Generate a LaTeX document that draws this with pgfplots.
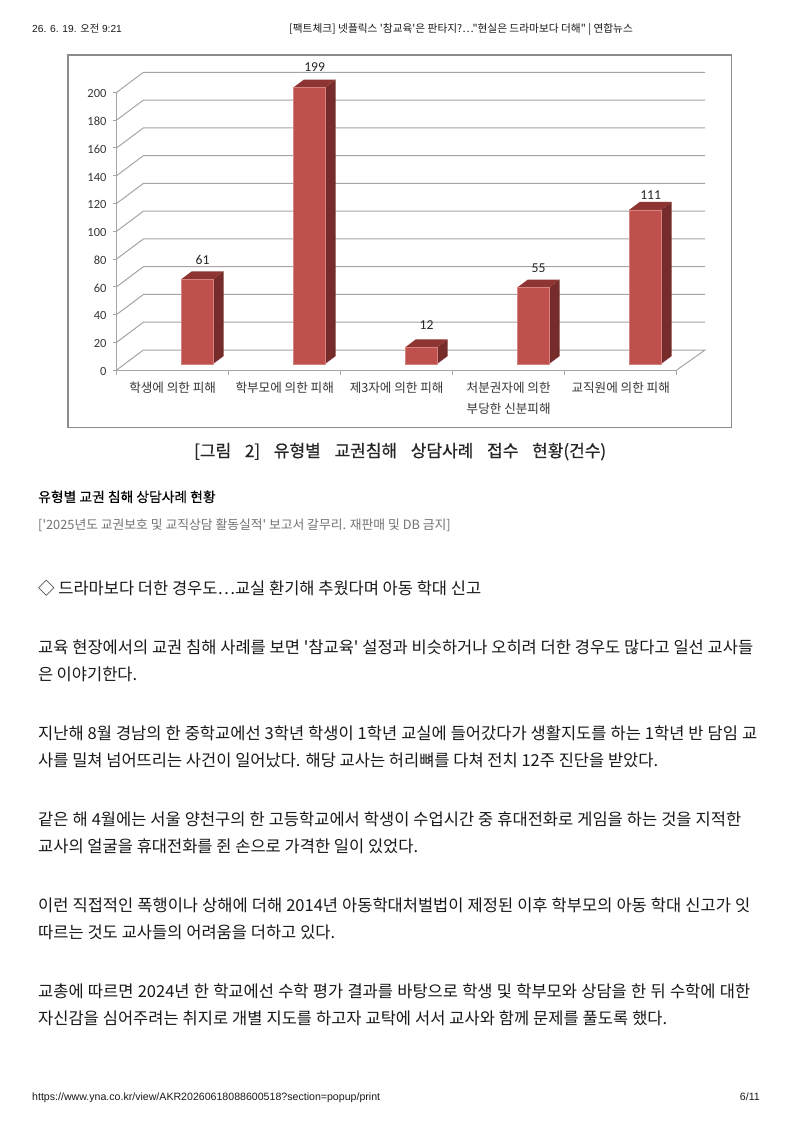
\documentclass[border=0pt]{standalone}
\usepackage{fontspec}
\usepackage{pgfplots}
\usepackage{pgfplotstable}
\pgfplotsset{compat=1.18}
\setmainfont[Ligatures=TeXOff]{Noto Sans CJK KR}
\newfontfamily\lib{Liberation Sans}
\newfontfamily\carl{Carlito}
\newfontfamily\cjkm[FakeBold=0.25]{Noto Sans CJK KR}
\newfontfamily\cjkb[FakeBold=0.6]{Noto Sans CJK KR}
\definecolor{gridc}{RGB}{165,165,165}
\definecolor{front}{RGB}{190,80,77}
\definecolor{edge}{RGB}{214,130,125}
\definecolor{side}{RGB}{117,44,42}
\definecolor{topf}{RGB}{142,53,51}
\definecolor{lab}{RGB}{55,55,55}
\definecolor{body}{RGB}{25,25,25}
\pgfplotstableread{
x v ly
0.5 61 19
1.5 199 21
2.5 12 22
3.5 55 19
4.5 111 14.3
}\bars
\newcommand\tl[3]{\node[anchor=base west,inner sep=0pt,text=body] at (38,-#1) {\makebox[#2pt][s]{\fontsize{16.5}{16.5}\selectfont #3}};}
\begin{document}
\begin{tikzpicture}[x=1pt,y=1pt]
\path[use as bounding box,fill=white] (0,0) rectangle (793,-1122);
% frame
\draw[draw=black!45,line width=1.6pt,fill=white] (68,-55) rectangle (731.5,-427.5);
\begin{axis}[
  at={(116.7pt,-370pt)},anchor=south west,scale only axis,
  width=560pt,height=277.7pt,
  xmin=0,xmax=5,ymin=0,ymax=200,clip=false,
  axis x line*=bottom,axis y line*=left,
  axis line style={-,draw=gridc,line width=1pt},
  /pgf/number format/assume math mode=true,
  ytick={0,20,...,200},
  xtick={0.5,1.5,2.5,3.5,4.5},
  minor xtick={0,1,2,3,4,5},
  major x tick style={draw=none},
  minor x tick style={draw=gridc,line width=0.8pt},
  major y tick style={draw=gridc,line width=0.8pt},
  tick align=outside,major tick length=4pt,minor tick length=5pt,
  xticklabels={학생에 의한 피해,학부모에 의한 피해,제3자에 의한 피해,{처분권자에 의한\\부당한 신분피해},교직원에 의한 피해},
  xticklabel style={anchor=north,inner sep=0pt,align=center,yshift=-8pt,text=lab,
     font=\fontsize{12.6}{21}\selectfont},
  yticklabel style={font=\carl\fontsize{12.5}{14}\selectfont,text=lab,inner sep=0pt,xshift=-6pt,yshift=-1.5pt},
]
% back wall and side wall lines
\addplot[gridc,line width=1pt] coordinates {(0,20)(0.2384,34.4)(5.2527,34.4)};
\addplot[gridc,line width=1pt] coordinates {(0,40)(0.2384,54.4)(5.2527,54.4)};
\addplot[gridc,line width=1pt] coordinates {(0,60)(0.2384,74.4)(5.2527,74.4)};
\addplot[gridc,line width=1pt] coordinates {(0,80)(0.2384,94.4)(5.2527,94.4)};
\addplot[gridc,line width=1pt] coordinates {(0,100)(0.2384,114.4)(5.2527,114.4)};
\addplot[gridc,line width=1pt] coordinates {(0,120)(0.2384,134.4)(5.2527,134.4)};
\addplot[gridc,line width=1pt] coordinates {(0,140)(0.2384,154.4)(5.2527,154.4)};
\addplot[gridc,line width=1pt] coordinates {(0,160)(0.2384,174.4)(5.2527,174.4)};
\addplot[gridc,line width=1pt] coordinates {(0,180)(0.2384,194.4)(5.2527,194.4)};
\addplot[gridc,line width=1pt] coordinates {(0,200)(0.2384,214.4)(5.2527,214.4)};
\addplot[gridc,line width=1pt] coordinates {(0,0)(0.2384,14.4)(5.2527,14.4)(5,0)};
% side faces
\addplot[side,fill=side,draw=none,xshift=24.4pt,yshift=6pt] coordinates {(0.6425,0)(0.7375,5.76)(0.7375,66.76)(0.6425,61)} --cycle;
\addplot[side,fill=side,draw=none,xshift=24.4pt,yshift=6pt] coordinates {(1.6425,0)(1.7375,5.76)(1.7375,204.76)(1.6425,199)} --cycle;
\addplot[side,fill=side,draw=none,xshift=24.4pt,yshift=6pt] coordinates {(2.6425,0)(2.7375,5.76)(2.7375,17.76)(2.6425,12)} --cycle;
\addplot[side,fill=side,draw=none,xshift=24.4pt,yshift=6pt] coordinates {(3.6425,0)(3.7375,5.76)(3.7375,60.76)(3.6425,55)} --cycle;
\addplot[side,fill=side,draw=none,xshift=24.4pt,yshift=6pt] coordinates {(4.6425,0)(4.7375,5.76)(4.7375,116.76)(4.6425,111)} --cycle;
% top faces
\addplot[topf,fill=topf,draw=none,xshift=24.4pt,yshift=6pt] coordinates {(0.3575,61)(0.4525,66.76)(0.7375,66.76)(0.6425,61)} --cycle;
\addplot[topf,fill=topf,draw=none,xshift=24.4pt,yshift=6pt] coordinates {(1.3575,199)(1.4525,204.76)(1.7375,204.76)(1.6425,199)} --cycle;
\addplot[topf,fill=topf,draw=none,xshift=24.4pt,yshift=6pt] coordinates {(2.3575,12)(2.4525,17.76)(2.7375,17.76)(2.6425,12)} --cycle;
\addplot[topf,fill=topf,draw=none,xshift=24.4pt,yshift=6pt] coordinates {(3.3575,55)(3.4525,60.76)(3.7375,60.76)(3.6425,55)} --cycle;
\addplot[topf,fill=topf,draw=none,xshift=24.4pt,yshift=6pt] coordinates {(4.3575,111)(4.4525,116.76)(4.7375,116.76)(4.6425,111)} --cycle;
% front faces and value labels
\addplot[ybar,bar width=32pt,bar shift=0pt,fill=front,draw=edge,line width=0.5pt,xshift=24.4pt,yshift=6pt,
  point meta=y,
  visualization depends on={\thisrow{ly} \as \ly},
  nodes near coords,
  every node near coord/.append style={anchor=center,inner sep=0pt,xshift=5.5pt,yshift=\ly pt,
     font=\carl\fontsize{13.6}{15}\selectfont,text=black!85},
] table[x=x,y=v] {\bars};
\end{axis}
% caption inside the picture
\node[anchor=base west,inner sep=0pt,text=black!85] at (194,-457) {\makebox[412pt][s]{\cjkb\fontsize{17}{17}\selectfont [그림 2] 유형별 교권침해 상담사례 접수 현황(건수)}};
% page header and footer
\node[anchor=base west,inner sep=0pt,text=body] at (32,-32) {\fontsize{10.2}{11}\selectfont{\lib 26. 6. 19. }오전{\lib\ 9:21}};
\node[anchor=base west,inner sep=0pt,text=body] at (289,-32) {\fontsize{10.7}{11}\selectfont [팩트체크] 넷플릭스 '참교육'은 판타지?…"현실은 드라마보다 더해" | 연합뉴스};
\node[anchor=base west,inner sep=0pt,text=body] at (32,-1100) {\lib\fontsize{10.6}{11}\selectfont https://www.yna.co.kr/view/AKR20260618088600518?section=popup/print};
\node[anchor=base east,inner sep=0pt,text=body] at (760,-1100) {\lib\fontsize{10.6}{11}\selectfont 6/11};
% article text
\node[anchor=base west,inner sep=0pt,text=black] at (38,-502) {\cjkm\fontsize{13.8}{14}\selectfont 유형별 교권 침해 상담사례 현황};
\node[anchor=base west,inner sep=0pt,text=black!55] at (38,-529) {\fontsize{12.8}{14}\selectfont ['2025년도 교권보호 및 교직상담 활동실적' 보고서 갈무리. 재판매 및 DB 금지]};
\tl{594}{443}{◇ 드라마보다 더한 경우도⋯교실 환기해 추웠다며 아동 학대 신고}
\tl{653}{715}{교육 현장에서의 교권 침해 사례를 보면 '참교육' 설정과 비슷하거나 오히려 더한 경우도 많다고 일선 교사들}
\tl{680}{99}{은 이야기한다.}
\tl{739}{719}{지난해 8월 경남의 한 중학교에선 3학년 학생이 1학년 교실에 들어갔다가 생활지도를 하는 1학년 반 담임 교}
\tl{766}{620}{사를 밀쳐 넘어뜨리는 사건이 일어났다. 해당 교사는 허리뼈를 다쳐 전치 12주 진단을 받았다.}
\tl{825}{703}{같은 해 4월에는 서울 양천구의 한 고등학교에서 학생이 수업시간 중 휴대전화로 게임을 하는 것을 지적한}
\tl{852}{380}{교사의 얼굴을 휴대전화를 쥔 손으로 가격한 일이 있었다.}
\tl{911}{712}{이런 직접적인 폭행이나 상해에 더해 2014년 아동학대처벌법이 제정된 이후 학부모의 아동 학대 신고가 잇}
\tl{938}{297}{따르는 것도 교사들의 어려움을 더하고 있다.}
\tl{997}{712}{교총에 따르면 2024년 한 학교에선 수학 평가 결과를 바탕으로 학생 및 학부모와 상담을 한 뒤 수학에 대한}
\tl{1024}{629}{자신감을 심어주려는 취지로 개별 지도를 하고자 교탁에 서서 교사와 함께 문제를 풀도록 했다.}
\end{tikzpicture}
\end{document}
